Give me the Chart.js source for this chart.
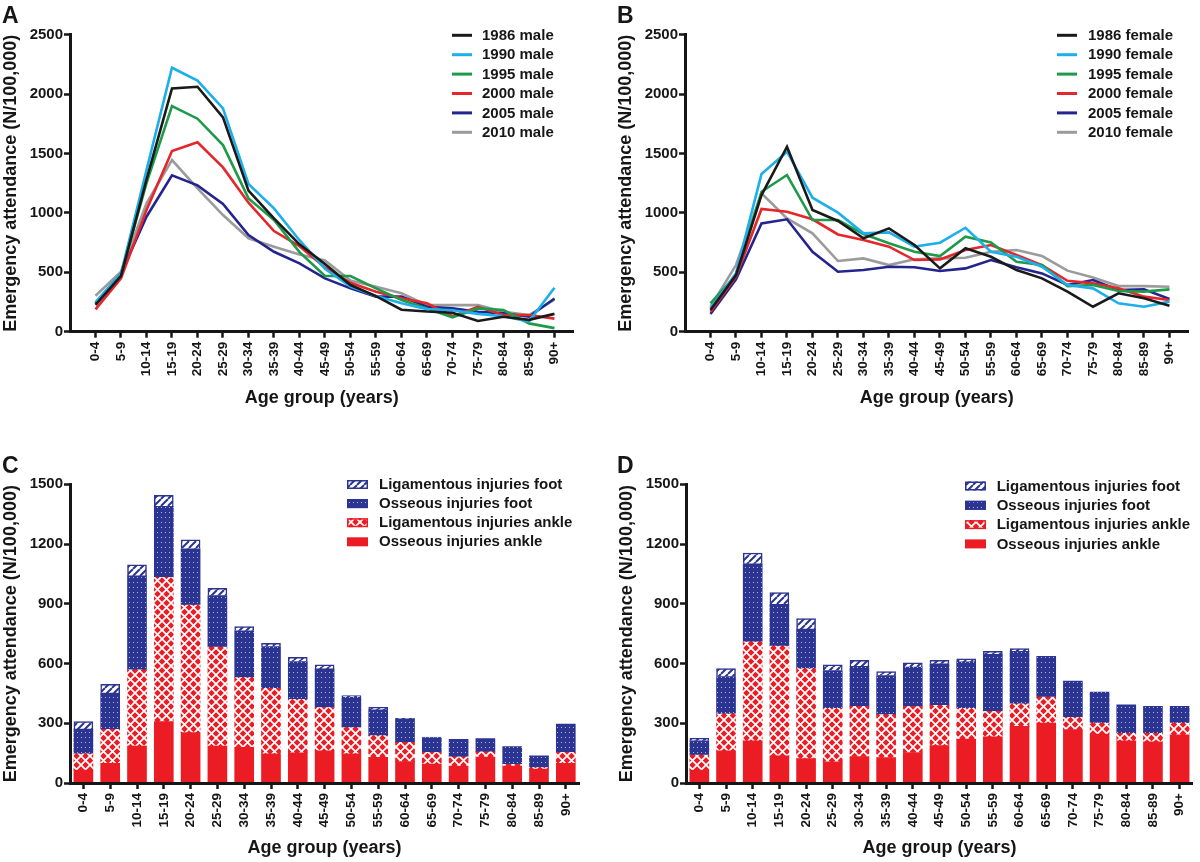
<!DOCTYPE html>
<html>
<head>
<meta charset="utf-8">
<title>Emergency attendance by age group</title>
<script src="https://cdn.jsdelivr.net/npm/chart.js@4.4.1/dist/chart.umd.min.js"></script>
<style>
  html, body { margin: 0; padding: 0; background: #fff; }
  #page { position: relative; width: 1200px; height: 862px; overflow: hidden; }
  .panel { position: absolute; }
</style>
</head>
<body>
<div id="page">
  <div class="panel" style="left:0;top:0;width:600px;height:409px"><canvas id="chartA"></canvas></div>
  <div class="panel" style="left:615px;top:0;width:585px;height:409px"><canvas id="chartB"></canvas></div>
  <div class="panel" style="left:0;top:450px;width:600px;height:409px"><canvas id="chartC"></canvas></div>
  <div class="panel" style="left:616px;top:450px;width:584px;height:409px"><canvas id="chartD"></canvas></div>
</div>
<script>
const ages = ["0-4", "5-9", "10-14", "15-19", "20-24", "25-29", "30-34", "35-39", "40-44",
  "45-49", "50-54", "55-59", "60-64", "65-69", "70-74", "75-79", "80-84", "85-89", "90+"];

// A: male, per 100,000
const male1986 = [225, 470, 1280, 2048, 2062, 1804, 1187, 954, 735, 570, 393, 300, 185, 170, 160, 90, 126, 100, 150];
const male1990 = [250, 490, 1360, 2222, 2113, 1880, 1243, 1038, 770, 530, 380, 300, 240, 190, 180, 150, 130, 85, 370];
const male1995 = [240, 480, 1250, 1900, 1793, 1571, 1122, 940, 670, 470, 469, 365, 267, 196, 121, 196, 182, 70, 30];
const male2000 = [188, 449, 1024, 1521, 1594, 1383, 1086, 847, 720, 540, 412, 337, 281, 239, 130, 210, 140, 140, 110];
const male2005 = [239, 490, 968, 1316, 1232, 1075, 814, 673, 575, 449, 365, 295, 295, 210, 196, 168, 154, 126, 280];
const male2010 = [303, 505, 1080, 1445, 1207, 982, 786, 716, 650, 600, 430, 379, 323, 224, 224, 224, 168, 140, 270];

// B: female
const female1986 = [182, 477, 1150, 1557, 1024, 932, 786, 870, 730, 533, 702, 631, 519, 449, 337, 210, 323, 281, 219];
const female1990 = [196, 491, 1327, 1515, 1128, 1002, 828, 836, 716, 749, 875, 673, 631, 547, 393, 365, 239, 210, 253];
const female1995 = [239, 477, 1178, 1319, 940, 940, 822, 744, 673, 637, 800, 752, 589, 561, 384, 393, 342, 337, 356];
const female2000 = [168, 463, 1033, 1010, 946, 819, 772, 716, 603, 609, 688, 730, 645, 561, 429, 407, 365, 295, 267];
const female2005 = [149, 440, 912, 946, 673, 505, 519, 547, 542, 511, 533, 603, 542, 491, 393, 435, 351, 356, 275];
const female2010 = [210, 561, 1164, 954, 828, 595, 617, 561, 609, 617, 623, 673, 688, 637, 514, 457, 384, 384, 379];

// C: male injuries (stacked)
const cOssAnkle = [65, 99, 186, 308, 253, 186, 179, 146, 152, 162, 146, 129, 107, 95, 85, 130, 85, 70, 99];
const cLigAnkle = [81, 171, 382, 725, 641, 496, 350, 330, 268, 217, 132, 109, 97, 59, 47, 27, 9, 7, 55];
const cOssFoot = [125, 181, 472, 356, 282, 259, 235, 209, 190, 194, 154, 129, 116, 74, 87, 66, 89, 59, 142];
const cLigFoot = [37, 45, 55, 55, 45, 37, 22, 17, 21, 20, 7, 13, 5, 3, 0, 0, 0, 0, 0];

// D: female injuries (stacked)
const dOssAnkle = [65, 162, 212, 136, 123, 106, 133, 128, 153, 188, 220, 232, 284, 301, 268, 246, 212, 207, 242];
const dLigAnkle = [75, 185, 497, 552, 451, 269, 252, 215, 231, 202, 155, 128, 113, 130, 62, 55, 37, 42, 59];
const dOssFoot = [72, 188, 392, 209, 199, 190, 201, 197, 198, 209, 233, 286, 264, 205, 182, 155, 143, 136, 84];
const dLigFoot = [12, 39, 54, 59, 53, 29, 30, 20, 22, 17, 16, 15, 14, 0, 0, 0, 0, 0, 0];

const lineTicks = [0, 500, 1000, 1500, 2000, 2500];
const barTicks = [0, 300, 600, 900, 1200, 1500];

const FONT = '"Liberation Sans", Arial, Helvetica, sans-serif';
const INK = "#161616";
const RED = "#ec1c24";
const BLUE = "#2b3491";
const yearColors = ["#1a1a1a", "#1db0e8", "#1e9a4b", "#e5262b", "#24248f", "#9b9b9b"];

Chart.defaults.font.family = FONT;
Chart.defaults.font.weight = "bold";
Chart.defaults.color = INK;

function makePattern(w, h, paint) {
  const c = document.createElement("canvas");
  c.width = w;
  c.height = h;
  const g = c.getContext("2d");
  paint(g, w, h);
  return g.createPattern(c, "repeat");
}

const crossFill = makePattern(9, 9, (g, w, h) => {
  g.fillStyle = RED;
  g.fillRect(0, 0, w, h);
  g.strokeStyle = "#fff";
  g.lineWidth = 1.7;
  g.beginPath();
  g.moveTo(-1, -1); g.lineTo(w + 1, h + 1);
  g.moveTo(-1, h + 1); g.lineTo(w + 1, -1);
  g.stroke();
});

const dotFill = makePattern(4, 5, (g, w, h) => {
  g.fillStyle = BLUE;
  g.fillRect(0, 0, w, h);
  g.fillStyle = "rgba(220,225,255,0.75)";
  g.fillRect(1, 2, 1, 1);
});

const hatchFill = makePattern(7, 7, (g, w, h) => {
  g.fillStyle = "#fff";
  g.fillRect(0, 0, w, h);
  g.strokeStyle = BLUE;
  g.lineWidth = 2;
  g.beginPath();
  [-w, 0, w].forEach(o => { g.moveTo(o, h); g.lineTo(o + w, 0); });
  g.stroke();
});

// panel letter + legend drawn at fixed spots of each canvas
const panelDecor = {
  id: "panelDecor",
  afterDraw(chart, args, opts) {
    const ctx = chart.ctx;
    ctx.save();
    ctx.fillStyle = INK;
    ctx.font = "bold 23px " + FONT;
    ctx.textBaseline = "alphabetic";
    ctx.fillText(opts.letter, opts.letterX, 23);

    ctx.font = "bold 15px " + FONT;
    ctx.textBaseline = "middle";
    let sets = chart.data.datasets.slice();
    if (opts.reverse) sets.reverse();
    sets.forEach((ds, i) => {
      const y = opts.y0 + i * opts.step;
      if (opts.kind === "line") {
        ctx.strokeStyle = ds.borderColor;
        ctx.lineWidth = 3;
        ctx.beginPath();
        ctx.moveTo(opts.markX, y);
        ctx.lineTo(opts.markX + 20, y);
        ctx.stroke();
      } else {
        ctx.fillStyle = ds.backgroundColor;
        ctx.fillRect(opts.markX, y - 4.5, 21, 9);
        if (ds.edgeColor) {
          ctx.strokeStyle = ds.edgeColor;
          ctx.lineWidth = 1.5;
          ctx.strokeRect(opts.markX + 0.75, y - 3.75, 19.5, 7.5);
        }
      }
      ctx.fillStyle = INK;
      ctx.fillText(ds.label, opts.textX, y + 0.5);
    });
    ctx.restore();
  }
};

function yScale(max, ticks) {
  return {
    min: 0,
    max: max,
    afterBuildTicks: s => { s.ticks = ticks.map(v => ({ value: v })); },
    afterFit: s => { s.width = 70; },
    border: { display: true, width: 3, color: INK, z: 1 },
    grid: { drawOnChartArea: false, drawTicks: true, tickLength: 6, tickWidth: 2.5, tickColor: INK },
    ticks: { font: { size: 15, weight: "bold" }, padding: 1, color: INK, callback: v => String(v) },
    title: {
      display: true,
      text: "Emergency attendance (N/100,000)",
      font: { size: 18, weight: "bold" },
      padding: 0,
      color: INK
    }
  };
}

function xCommon(height) {
  return {
    afterFit: s => { s.height = height; },
    border: { display: true, width: 3, color: INK, z: 1 },
    grid: { drawOnChartArea: false, drawTicks: true, tickLength: 6, tickWidth: 2.5, tickColor: INK, offset: false },
    ticks: { autoSkip: false, maxRotation: 90, minRotation: 90, padding: 4,
      font: { size: 13.5, weight: "bold" }, color: INK },
    title: {
      display: true,
      text: "Age group (years)",
      font: { size: 18, weight: "bold" },
      padding: 0,
      color: INK
    }
  };
}

function lineChart(id, labels, series, decor, padRight) {
  const x = xCommon(77.3);
  x.type = "linear";
  x.min = -1;
  x.max = 18.75;
  x.afterBuildTicks = s => { s.ticks = ages.map((a, i) => ({ value: i })); };
  x.ticks.callback = v => ages[v];
  new Chart(document.getElementById(id), {
    type: "line",
    data: {
      datasets: series.map((vals, k) => ({
        label: labels[k],
        data: vals.map((v, i) => ({ x: i, y: v })),
        borderColor: yearColors[k],
        backgroundColor: yearColors[k],
        borderWidth: 2.6,
        pointRadius: 0,
        tension: 0,
        fill: false
      }))
    },
    options: {
      responsive: true,
      maintainAspectRatio: false,
      animation: false,
      devicePixelRatio: 1,
      layout: { padding: { left: 0, top: 34.7, right: padRight, bottom: 0 } },
      scales: { x: x, y: yScale(2500, lineTicks) },
      plugins: { legend: { display: false }, tooltip: { enabled: false }, panelDecor: decor }
    },
    plugins: [panelDecor]
  });
}

function barChart(id, parts, decor, padTop, padRight) {
  const x = xCommon(76);
  x.type = "category";
  x.stacked = true;
  x.offset = true;
  const y = yScale(1500, barTicks);
  y.stacked = true;
  const names = ["Osseous injuries ankle", "Ligamentous injuries ankle", "Osseous injuries foot", "Ligamentous injuries foot"];
  const fills = [RED, crossFill, dotFill, hatchFill];
  const edges = [null, RED, BLUE, BLUE];
  new Chart(document.getElementById(id), {
    type: "bar",
    data: {
      labels: ages,
      datasets: parts.map((vals, k) => ({
        label: names[k],
        data: vals,
        backgroundColor: fills[k],
        edgeColor: edges[k],
        borderColor: BLUE,
        borderWidth: k === 3 ? 1.5 : 0,
        barThickness: 19
      }))
    },
    options: {
      responsive: true,
      maintainAspectRatio: false,
      animation: false,
      devicePixelRatio: 1,
      layout: { padding: { left: 0, top: padTop, right: padRight, bottom: 0 } },
      scales: { x: x, y: y },
      plugins: { legend: { display: false }, tooltip: { enabled: false }, panelDecor: decor }
    },
    plugins: [panelDecor]
  });
}

lineChart("chartA",
  ["1986 male", "1990 male", "1995 male", "2000 male", "2005 male", "2010 male"],
  [male1986, male1990, male1995, male2000, male2005, male2010],
  { letter: "A", letterX: 2, kind: "line", markX: 452, textX: 482, y0: 35.3, step: 19.4 },
  26.4);

lineChart("chartB",
  ["1986 female", "1990 female", "1995 female", "2000 female", "2005 female", "2010 female"],
  [female1986, female1990, female1995, female2000, female2005, female2010],
  { letter: "B", letterX: 2, kind: "line", markX: 442, textX: 473, y0: 35.3, step: 19.4 },
  11.4);

barChart("chartC", [cOssAnkle, cLigAnkle, cOssFoot, cLigFoot],
  { letter: "C", letterX: 2, kind: "bar", reverse: true, markX: 347, textX: 379, y0: 34.5, step: 19.1 },
  34.3, 20.8);

barChart("chartD", [dOssAnkle, dLigAnkle, dOssFoot, dLigFoot],
  { letter: "D", letterX: 1, kind: "bar", reverse: true, markX: 349, textX: 380.7, y0: 36, step: 19.3 },
  34.3, 6.7);
</script>
</body>
</html>
